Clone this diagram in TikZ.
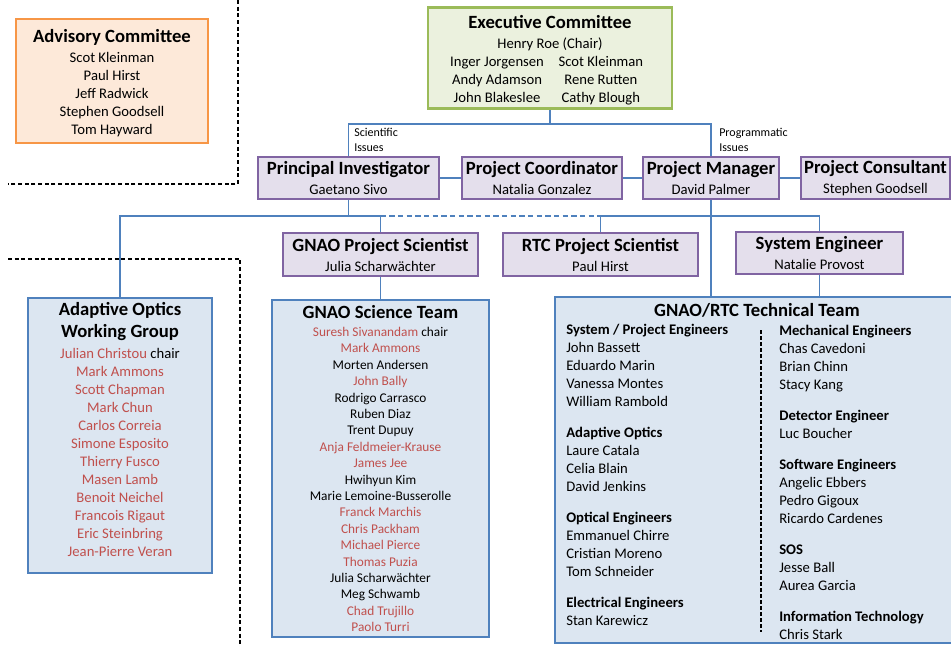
\documentclass[tikz,border=0pt]{standalone}
\usepackage{fontspec}
\setmainfont{Carlito}
\usetikzlibrary{positioning,backgrounds}

\definecolor{advfill}{HTML}{FDE9D9}
\definecolor{advline}{HTML}{F79646}
\definecolor{execfill}{HTML}{EBF1DE}
\definecolor{execline}{HTML}{9BBB59}
\definecolor{rolefill}{HTML}{E4DFEC}
\definecolor{roleline}{HTML}{8064A2}
\definecolor{teamfill}{HTML}{DCE6F1}
\definecolor{teamline}{HTML}{4F81BD}
\definecolor{linkblue}{HTML}{4F81BD}
\definecolor{namered}{HTML}{C0504D}

\newcommand{\rd}[1]{\textcolor{namered}{#1}}
\newcommand{\ttl}[1]{{\fontsize{14}{16}\selectfont\bfseries #1}}
\newcommand{\hd}[1]{\textbf{#1}}

\begin{document}
\begin{tikzpicture}[x=0.75pt,y=-0.75pt]
			\tikzstyle{every node}=[font=\fontsize{11}{13.5}\selectfont, inner sep=0pt]
			\tikzstyle{box}=[draw, line width=1.8pt, align=center]
			\tikzstyle{advbox}=[box, draw=advline, fill=advfill]
			\tikzstyle{execbox}=[box, draw=execline, fill=execfill]
			\tikzstyle{rolebox}=[box, draw=roleline, fill=rolefill]
			\tikzstyle{teambox}=[box, draw=teamline, fill=teamfill]
			\tikzstyle{issue}=[align=left, font=\fontsize{9}{11.25}\selectfont]
			\tikzset{link/.style = {draw=linkblue, line width=0.9pt}}
			\tikzset{sepline/.style = {line width=1.5pt, dash pattern=on 3pt off 2pt}}
			
			\useasboundingbox (0,0) rectangle (951,646);
			
			% committees
			\node[advbox, minimum width=144pt, minimum height=93pt](adv) at (112,81)
				{\rule{0pt}{13pt}\ttl{Advisory Committee}\\[1.5pt]Scot Kleinman\\Paul Hirst\\Jeff Radwick\\Stephen Goodsell\\Tom Hayward};
			\node[execbox, minimum width=183pt, minimum height=72pt](exec) at (550,58)
				{\rule{0pt}{16pt}\ttl{Executive Committee}\\[1.5pt]Henry Roe (Chair)\\
				\begin{tabular}[t]{@{}c@{\hspace{11pt}}c@{\hspace{5pt}}}
				Inger Jorgensen & Scot Kleinman\\ Andy Adamson & Rene Rutten\\ John Blakeslee & Cathy Blough
				\end{tabular}};
			
			% management row
			\node[rolebox, minimum width=135.75pt, minimum height=31.5pt](pi) at (348.5,178)
				{\ttl{Principal Investigator}\\[1.5pt]Gaetano Sivo};
			\node[rolebox, minimum width=120pt, minimum height=31.5pt](pc) at (542,178)
				{\ttl{Project Coordinator}\\[1.5pt]Natalia Gonzalez};
			\node[rolebox, minimum width=102pt, minimum height=31.5pt](pm) at (711,178)
				{\ttl{Project Manager}\\[1.5pt]David Palmer};
			\node[rolebox, minimum width=111.75pt, minimum height=31.5pt](pcons) at (875.5,178)
				{\ttl{Project Consultant}\\[1.5pt]Stephen Goodsell};
			\node[issue, anchor=north west](sciissue) at (354,128) {Scientific\\Issues};
			\node[issue, anchor=north west](progissue) at (719,128) {Programmatic\\Issues};
			
			% scientists and engineer
			\node[rolebox, minimum width=146.25pt, minimum height=32.25pt](gps) at (380.5,254.5)
				{\ttl{GNAO Project Scientist}\\[1.5pt]Julia Scharwächter};
			\node[rolebox, minimum width=146.25pt, minimum height=32.25pt](rps) at (600.5,254.5)
				{\ttl{RTC Project Scientist}\\[1.5pt]Paul Hirst};
			\node[rolebox, minimum width=125.25pt, minimum height=31.5pt](se) at (819.5,253)
				{\ttl{System Engineer}\\[1.5pt]Natalie Provost};
			
			% teams
			\node[teambox, minimum width=138pt, minimum height=206.25pt](aowg) at (120,435.5)
				{\ttl{Adaptive Optics}\\[3pt]\ttl{Working Group}\\[2.25pt]\rd{Julian Christou} chair\\
				\rd{Mark Ammons}\\\rd{Scott Chapman}\\\rd{Mark Chun}\\\rd{Carlos Correia}\\
				\rd{Simone Esposito}\\\rd{Thierry Fusco}\\\rd{Masen Lamb}\\\rd{Benoit Neichel}\\
				\rd{Francois Rigaut}\\\rd{Eric Steinbring}\\\rd{Jean-Pierre Veran}\rule[-9.5pt]{0pt}{1pt}};
			\node[teambox, minimum width=162.75pt, minimum height=252.75pt,
				font=\fontsize{10}{12.3}\selectfont](sci) at (380.5,468.5)
				{\ttl{GNAO Science Team}\\[1.2pt]\rd{Suresh Sivanandam} chair\\
				\rd{Mark Ammons}\\Morten Andersen\\\rd{John Bally}\\Rodrigo Carrasco\\Ruben Diaz\\
				Trent Dupuy\\\rd{Anja Feldmeier-Krause}\\\rd{James Jee}\\Hwihyun Kim\\
				Marie Lemoine-Busserolle\\\rd{Franck Marchis}\\\rd{Chris Packham}\\\rd{Michael Pierce}\\
				\rd{Thomas Puzia}\\Julia Scharwächter\\Meg Schwamb\\\rd{Chad Trujillo}\\\rd{Paolo Turri}};
			\node[teambox, minimum width=303.75pt, minimum height=259.5pt](tech) at (757.5,470) {};
			\node(techtitle) at (757,310) {\ttl{GNAO/RTC Technical Team}};
			\node[align=left, anchor=north west](techleft) at (566,324)
				{\hd{System / Project Engineers}\\John Bassett\\Eduardo Marin\\Vanessa Montes\\William Rambold\\[9.75pt]
				\hd{Adaptive Optics}\\Laure Catala\\Celia Blain\\David Jenkins\\[9.75pt]
				\hd{Optical Engineers}\\Emmanuel Chirre\\Cristian Moreno\\Tom Schneider\\[9.75pt]
				\hd{Electrical Engineers}\\Stan Karewicz};
			\node[align=left, anchor=north west](techright) at (779,325)
				{\hd{Mechanical Engineers}\\Chas Cavedoni\\Brian Chinn\\Stacy Kang\\[9.75pt]
				\hd{Detector Engineer}\\Luc Boucher\\[9.75pt]
				\hd{Software Engineers}\\Angelic Ebbers\\Pedro Gigoux\\Ricardo Cardenes\\[9.75pt]
				\hd{SOS}\\Jesse Ball\\Aurea Garcia\\[9.75pt]
				\hd{Information Technology}\\Chris Stark};
			\draw[line width=1pt, dash pattern=on 3pt off 1.5pt] (761,330) -- (761,632);
			
			% separators
			\draw[sepline] (238,0) -- (238,184) -- (8,184);
			\draw[sepline] (8,259) -- (240,259) -- (240,646);
			
			% links
			\coordinate(ebus) at (0,124);
			\coordinate(sbus) at (0,216);
			\begin{scope}[on background layer]
			\draw[link](exec.south) -- (exec.south |- ebus) -| (pi.north);
			\draw[link](exec.south |- ebus) -| (pm.north);
			\draw[link](pi.east) -- (pc.west);
			\draw[link](pc.east) -- (pm.west);
			\draw[link](pm.east) -- (pcons.west);
			\draw[link](pi.south) -- (pi.south |- sbus) -| (aowg.north);
			\draw[link](pi.south |- sbus) -| (gps.north);
			\draw[link, dash pattern=on 4pt off 2.5pt](gps.north |- sbus) -- (rps.north |- sbus);
			\draw[link](pm.south) -- (pm.south |- tech.north);
			\draw[link](pm.south |- sbus) -| (rps.north);
			\draw[link](pm.south |- sbus) -| (se.north);
			\draw[link](se.south) -- (se.south |- tech.north);
			\draw[link](gps.south) -- (sci.north);
			\end{scope}
			
\end{tikzpicture}
\end{document}
